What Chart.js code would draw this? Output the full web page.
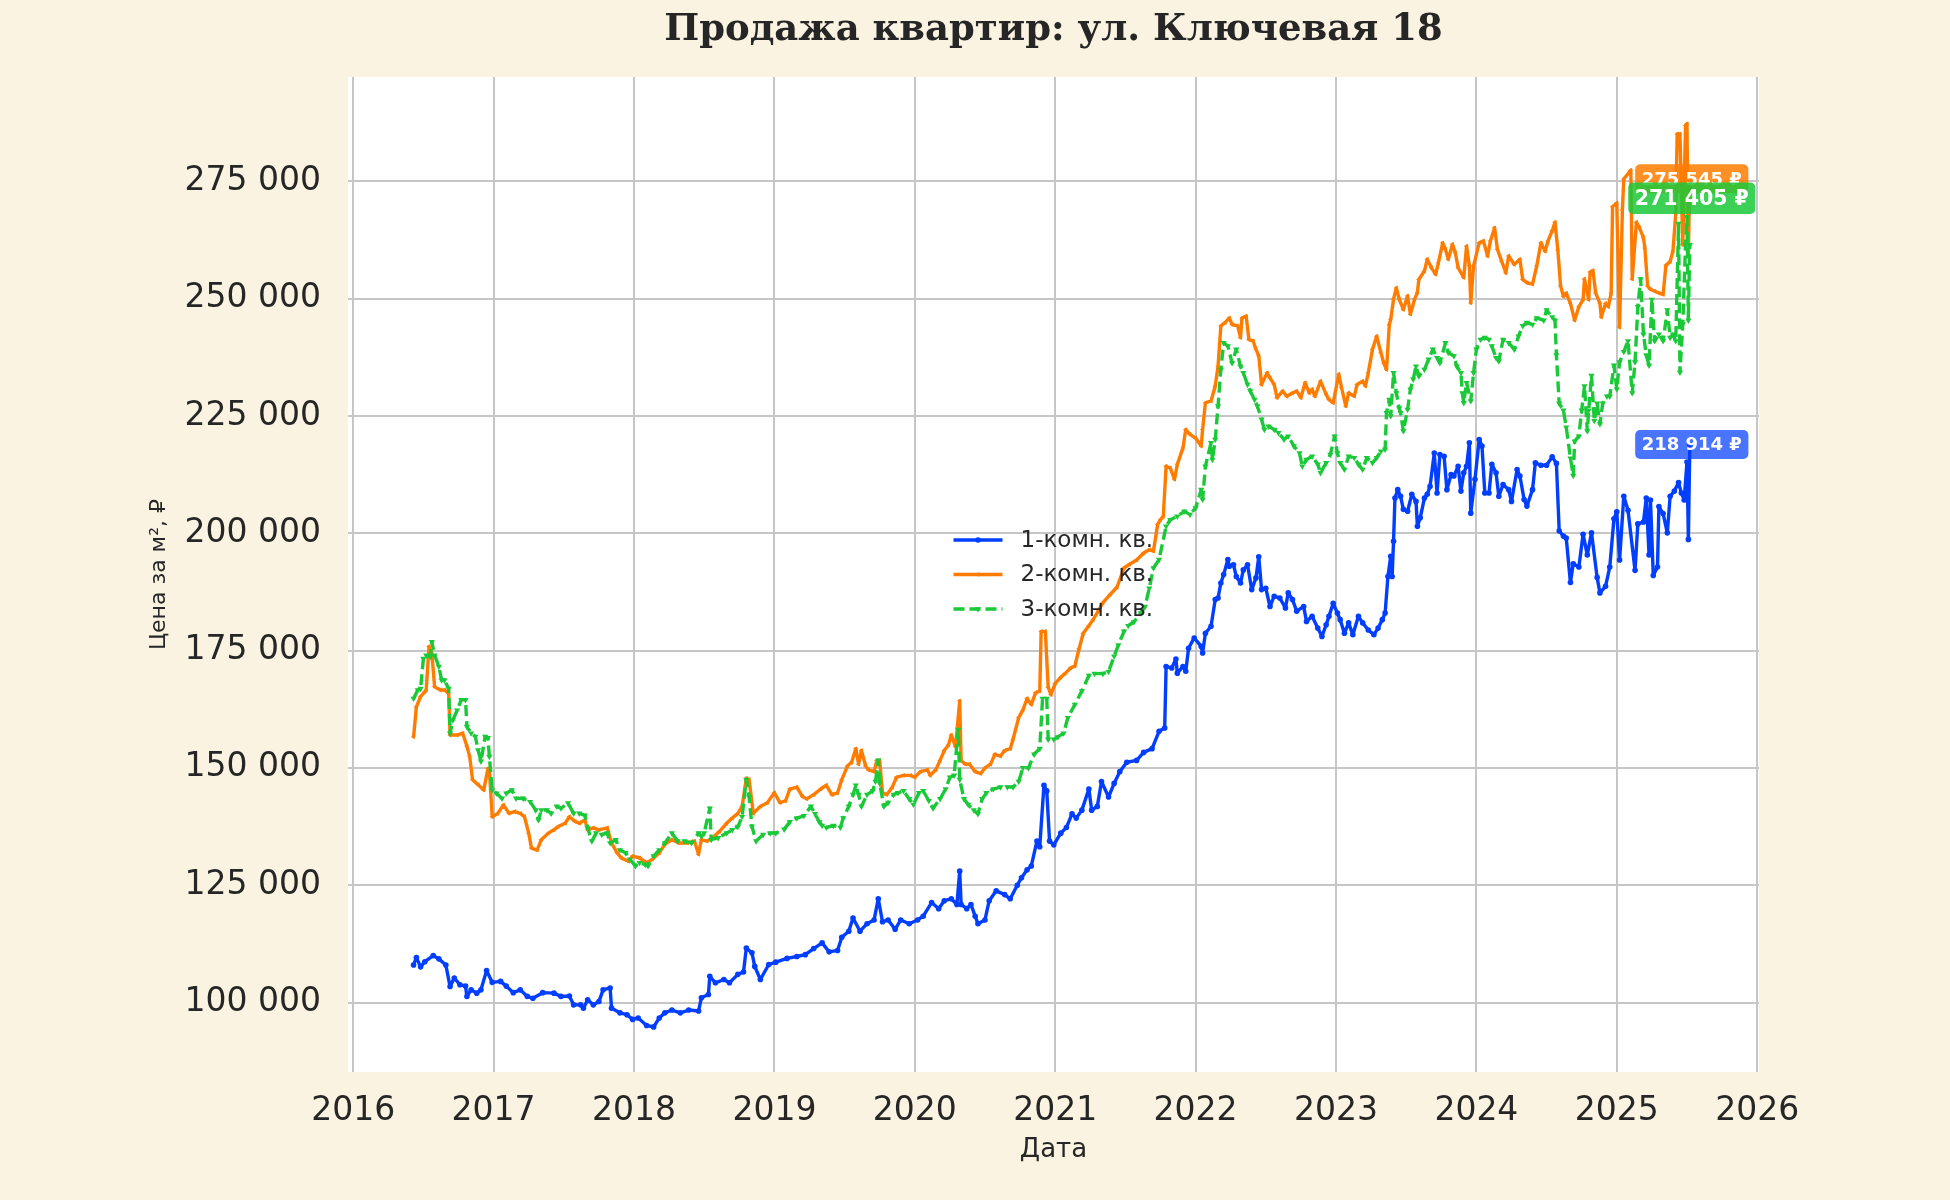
<!DOCTYPE html>
<html>
<head>
<meta charset="utf-8">
<script src="https://cdn.jsdelivr.net/npm/chart.js@4.4.1/dist/chart.umd.min.js"></script>
<style>
  html, body { margin: 0; padding: 0; background: #fbf3e1; }
  canvas { display: block; }
</style>
</head>
<body>
<canvas id="chart" width="1950" height="1200"></canvas>
<script>
// dates as decimal years, prices in thousands of rubles per m²
const dates1 = [
  2016.43, 2016.45, 2016.48, 2016.51, 2016.57, 2016.61, 2016.66, 2016.69, 2016.72, 2016.76, 2016.80, 2016.81, 2016.84, 2016.88, 2016.91, 2016.95, 2016.99,
  2017.05, 2017.09, 2017.14, 2017.19, 2017.24, 2017.28, 2017.35, 2017.43, 2017.48, 2017.54, 2017.57, 2017.62, 2017.64, 2017.67, 2017.71, 2017.75, 2017.78, 2017.83, 2017.84, 2017.90, 2017.95, 2017.99,
  2018.03, 2018.09, 2018.14, 2018.18, 2018.22, 2018.27, 2018.33, 2018.39, 2018.46, 2018.48, 2018.53, 2018.54, 2018.58, 2018.64, 2018.68, 2018.74, 2018.78, 2018.80, 2018.84, 2018.86, 2018.90, 2018.96,
  2019.01, 2019.09, 2019.16, 2019.22, 2019.28, 2019.34, 2019.39, 2019.45, 2019.48, 2019.53, 2019.56, 2019.61, 2019.66, 2019.71, 2019.74, 2019.77, 2019.81, 2019.86, 2019.90, 2019.96,
  2020.02, 2020.06, 2020.12, 2020.17, 2020.21, 2020.26, 2020.30, 2020.32, 2020.33, 2020.37, 2020.40, 2020.43, 2020.45, 2020.50, 2020.53, 2020.58, 2020.64, 2020.68, 2020.73, 2020.76, 2020.80, 2020.83, 2020.87, 2020.89, 2020.92, 2020.94, 2020.96, 2020.99,
  2021.04, 2021.08, 2021.12, 2021.15, 2021.19, 2021.24, 2021.26, 2021.30, 2021.33, 2021.38, 2021.42, 2021.46, 2021.51, 2021.58, 2021.63, 2021.69, 2021.74, 2021.78, 2021.79, 2021.83, 2021.86, 2021.87, 2021.91, 2021.93, 2021.95, 2021.99,
  2022.04, 2022.05, 2022.07, 2022.11, 2022.14, 2022.16, 2022.18, 2022.20, 2022.23, 2022.24, 2022.27, 2022.29, 2022.32, 2022.34, 2022.37, 2022.40, 2022.43, 2022.45, 2022.47, 2022.50, 2022.53, 2022.56, 2022.60, 2022.64, 2022.66, 2022.69, 2022.72, 2022.77, 2022.79, 2022.83, 2022.87, 2022.90, 2022.93, 2022.95, 2022.98,
  2023.01, 2023.03, 2023.06, 2023.09, 2023.12, 2023.16, 2023.19, 2023.23, 2023.27, 2023.30, 2023.33, 2023.35, 2023.37, 2023.39, 2023.40, 2023.41, 2023.42, 2023.44, 2023.46, 2023.48, 2023.51, 2023.54, 2023.57, 2023.58, 2023.60, 2023.63, 2023.65, 2023.67, 2023.70, 2023.72, 2023.74, 2023.77, 2023.79, 2023.82, 2023.84, 2023.87, 2023.89, 2023.91, 2023.93, 2023.95, 2023.96, 2023.99,
  2024.02, 2024.04, 2024.06, 2024.09, 2024.11, 2024.14, 2024.16, 2024.19, 2024.23, 2024.25, 2024.29, 2024.31, 2024.34, 2024.36, 2024.40, 2024.42, 2024.46, 2024.50, 2024.54, 2024.57, 2024.59, 2024.62, 2024.64, 2024.67, 2024.69, 2024.73, 2024.76, 2024.79, 2024.82, 2024.86, 2024.88, 2024.92, 2024.95, 2024.98,
  2025.00, 2025.02, 2025.05, 2025.08, 2025.13, 2025.15, 2025.19, 2025.21, 2025.23, 2025.24, 2025.26, 2025.29, 2025.30, 2025.33, 2025.36, 2025.38, 2025.41, 2025.44, 2025.46, 2025.48, 2025.50, 2025.51, 2025.52
];
const prices1 = [
  108.0, 109.6, 107.6, 108.7, 110.0, 109.3, 108.0, 103.4, 105.2, 103.8, 103.5, 101.3, 102.7, 102.0, 102.7, 106.8, 104.3,
  104.5, 103.5, 102.1, 102.7, 101.3, 100.9, 102.1, 102.0, 101.3, 101.4, 99.5, 99.5, 98.8, 100.6, 99.5, 100.2, 102.7, 103.1, 98.8, 97.8, 97.4, 96.4,
  96.7, 95.1, 94.8, 96.7, 97.8, 98.4, 97.8, 98.4, 98.2, 101.0, 101.7, 105.6, 104.2, 104.9, 104.2, 106.0, 106.5, 111.6, 110.6, 107.7, 104.9, 108.1,
  108.6, 109.4, 109.8, 110.2, 111.5, 112.7, 110.8, 111.1, 113.9, 115.2, 118.0, 115.2, 116.8, 117.6, 122.1, 117.2, 117.6, 115.6, 117.6, 116.8,
  117.6, 118.4, 121.3, 120.0, 121.7, 122.1, 120.9, 128.0, 120.9, 120.0, 120.9, 118.4, 116.8, 117.6, 121.7, 123.8, 123.0, 122.1, 125.0, 126.6, 128.3, 129.1, 134.4, 133.2, 146.3, 145.1, 134.4, 133.6,
  136.1, 137.3, 140.2, 139.3, 141.0, 145.5, 141.0, 141.8, 147.1, 143.8, 146.7, 149.2, 151.2, 151.6, 153.3, 154.1, 157.8, 158.5, 171.6, 171.3, 173.2, 170.2, 171.6, 170.6, 175.5, 177.7,
  175.9, 174.5, 178.7, 180.2, 185.9, 186.2, 189.4, 191.2, 194.4, 193.0, 193.3, 190.8, 189.4, 192.2, 193.3, 188.0, 190.5, 195.0, 188.0, 188.3, 184.4, 186.6, 186.2, 184.1, 187.3, 185.9, 183.4, 184.4, 181.2, 182.3, 179.8, 178.0, 180.5, 182.3, 185.1,
  183.0, 181.6, 178.7, 180.9, 178.4, 182.3, 180.9, 179.4, 178.4, 179.8, 181.6, 183.0, 190.8, 195.1, 190.8, 198.3, 207.5, 209.3, 207.9, 205.1, 204.7, 208.3, 206.8, 201.5, 203.3, 207.5, 208.3, 210.0, 217.1, 208.6, 216.8, 216.4, 209.3, 212.5, 212.2, 214.3, 209.0, 212.9, 214.3, 219.3, 204.3, 211.5,
  220.0, 218.6, 208.6, 208.6, 214.7, 212.9, 207.9, 210.4, 209.3, 206.8, 213.6, 212.2, 207.2, 205.8, 209.3, 215.0, 214.5, 214.5, 216.3, 214.9, 200.5, 199.4, 199.0, 189.5, 193.5, 192.8, 199.8, 195.4, 200.1, 190.6, 187.3, 188.7, 192.8, 203.1,
  204.6, 194.3, 207.9, 204.9, 192.1, 202.0, 202.4, 207.5, 195.4, 207.1, 191.0, 192.8, 205.7, 204.2, 200.1, 207.9, 209.0, 210.8, 208.6, 207.1, 215.2, 198.7, 218.9
];

const dates2 = [
  2016.43, 2016.45, 2016.48, 2016.51, 2016.52, 2016.54, 2016.56, 2016.58, 2016.62, 2016.65, 2016.68, 2016.69, 2016.74, 2016.78, 2016.81, 2016.83, 2016.85, 2016.89, 2016.93, 2016.96, 2016.97, 2016.99,
  2017.03, 2017.07, 2017.11, 2017.15, 2017.19, 2017.22, 2017.25, 2017.27, 2017.31, 2017.34, 2017.39, 2017.43, 2017.46, 2017.51, 2017.54, 2017.58, 2017.61, 2017.65, 2017.67, 2017.71, 2017.75, 2017.81, 2017.84, 2017.88, 2017.91, 2017.96, 2017.99,
  2018.04, 2018.09, 2018.13, 2018.18, 2018.22, 2018.27, 2018.32, 2018.38, 2018.43, 2018.46, 2018.48, 2018.52, 2018.56, 2018.61, 2018.66, 2018.70, 2018.74, 2018.77, 2018.80, 2018.82, 2018.85, 2018.90, 2018.95,
  2019.00, 2019.04, 2019.08, 2019.11, 2019.16, 2019.20, 2019.23, 2019.28, 2019.33, 2019.37, 2019.41, 2019.45, 2019.48, 2019.52, 2019.55, 2019.58, 2019.60, 2019.62, 2019.65, 2019.67, 2019.71, 2019.73, 2019.75, 2019.77, 2019.80, 2019.84, 2019.87, 2019.92, 2019.97,
  2020.00, 2020.04, 2020.09, 2020.11, 2020.15, 2020.18, 2020.21, 2020.24, 2020.26, 2020.29, 2020.32, 2020.33, 2020.36, 2020.39, 2020.43, 2020.47, 2020.50, 2020.54, 2020.57, 2020.61, 2020.64, 2020.68, 2020.70, 2020.74, 2020.77, 2020.80, 2020.83, 2020.86, 2020.89, 2020.90, 2020.93, 2020.95, 2020.97,
  2021.00, 2021.04, 2021.07, 2021.11, 2021.14, 2021.17, 2021.20, 2021.24, 2021.27, 2021.31, 2021.34, 2021.39, 2021.44, 2021.49, 2021.53, 2021.58, 2021.63, 2021.67, 2021.70, 2021.73, 2021.75, 2021.77, 2021.79, 2021.82, 2021.85, 2021.87, 2021.91, 2021.93, 2021.96,
  2022.00, 2022.04, 2022.05, 2022.07, 2022.11, 2022.14, 2022.16, 2022.18, 2022.21, 2022.24, 2022.26, 2022.30, 2022.32, 2022.33, 2022.36, 2022.38, 2022.41, 2022.43, 2022.45, 2022.47, 2022.51, 2022.53, 2022.56, 2022.58, 2022.62, 2022.65, 2022.69, 2022.72, 2022.75, 2022.78, 2022.81, 2022.83, 2022.85, 2022.89, 2022.93, 2022.95, 2022.98,
  2023.02, 2023.04, 2023.07, 2023.09, 2023.13, 2023.15, 2023.19, 2023.21, 2023.23, 2023.26, 2023.29, 2023.32, 2023.34, 2023.36, 2023.38, 2023.39, 2023.41, 2023.43, 2023.45, 2023.48, 2023.51, 2023.53, 2023.56, 2023.58, 2023.59, 2023.63, 2023.65, 2023.68, 2023.71, 2023.73, 2023.76, 2023.78, 2023.80, 2023.83, 2023.85, 2023.87, 2023.91, 2023.93, 2023.95, 2023.96, 2023.98,
  2024.02, 2024.05, 2024.08, 2024.10, 2024.13, 2024.15, 2024.18, 2024.21, 2024.23, 2024.27, 2024.31, 2024.33, 2024.36, 2024.40, 2024.43, 2024.46, 2024.49, 2024.51, 2024.54, 2024.56, 2024.58, 2024.60, 2024.62, 2024.64, 2024.67, 2024.70, 2024.73, 2024.76, 2024.77, 2024.80, 2024.81, 2024.83, 2024.85, 2024.88, 2024.89, 2024.92, 2024.94, 2024.96, 2024.97,
  2025.00, 2025.02, 2025.04, 2025.05, 2025.10, 2025.11, 2025.14, 2025.16, 2025.19, 2025.20, 2025.22, 2025.24, 2025.27, 2025.30, 2025.33, 2025.35, 2025.38, 2025.40, 2025.42, 2025.43, 2025.45, 2025.47, 2025.49, 2025.50, 2025.51, 2025.52
];
const prices2 = [
  156.6, 163.0, 165.2, 166.2, 166.6, 175.9, 174.4, 167.3, 166.6, 166.6, 165.9, 157.0, 157.0, 157.4, 154.6, 152.4, 147.5, 146.4, 145.3, 149.9, 149.6, 139.6,
  140.3, 142.1, 140.3, 140.7, 140.3, 139.6, 136.1, 132.9, 132.5, 134.7, 136.1, 136.8, 137.5, 138.2, 139.6, 138.6, 138.2, 138.9, 136.8, 137.2, 136.8, 137.2, 134.0, 131.9, 130.8, 130.1, 131.2,
  130.8, 129.8, 130.5, 131.9, 133.7, 134.7, 134.0, 134.0, 134.4, 131.6, 134.7, 134.4, 135.1, 136.5, 138.2, 139.3, 140.3, 141.8, 147.8, 147.5, 140.3, 141.8, 142.6,
  144.7, 142.6, 143.0, 145.5, 145.9, 143.9, 143.4, 144.3, 145.5, 146.3, 144.3, 144.7, 147.5, 150.4, 151.2, 154.1, 150.8, 153.7, 150.4, 149.6, 149.2, 151.6, 151.6, 144.7, 144.3, 145.9, 148.0, 148.4, 148.4,
  148.0, 149.2, 149.6, 148.4, 149.6, 151.6, 153.7, 154.9, 157.0, 154.5, 164.3, 151.6, 150.8, 150.8, 149.2, 148.8, 150.0, 150.8, 152.9, 152.5, 153.7, 154.1, 156.1, 160.7, 162.3, 164.8, 163.5, 166.0, 166.4, 179.1, 179.1, 167.2, 165.6,
  168.0, 169.3, 170.1, 171.3, 171.7, 175.4, 178.7, 180.3, 181.6, 183.6, 185.2, 186.9, 188.5, 192.6, 193.4, 194.3, 195.8, 196.5, 196.2, 201.9, 202.9, 203.6, 214.3, 213.9, 211.5, 214.7, 218.2, 222.1, 221.1,
  220.3, 218.6, 222.1, 227.8, 228.2, 231.4, 235.6, 244.2, 244.9, 245.9, 244.5, 244.2, 241.7, 245.9, 246.3, 241.3, 241.0, 239.2, 237.8, 231.7, 234.2, 233.1, 231.7, 228.9, 230.3, 229.2, 229.9, 230.3, 228.9, 232.1, 229.9, 230.7, 229.2, 232.4, 229.6, 228.5, 227.8,
  233.9, 231.0, 227.1, 229.9, 229.2, 231.7, 232.4, 231.4, 234.2, 239.2, 242.0, 238.5, 236.3, 234.9, 244.5, 245.6, 249.9, 252.3, 249.9, 247.7, 250.6, 246.7, 249.9, 251.3, 254.1, 255.9, 258.4, 256.6, 255.2, 257.7, 261.9, 260.5, 258.4, 261.6, 259.8, 256.6, 254.5, 261.2, 257.0, 249.1, 257.0,
  261.9, 262.3, 259.1, 262.3, 265.1, 260.5, 258.0, 255.5, 259.1, 257.3, 258.4, 254.1, 253.4, 253.1, 257.0, 261.9, 260.1, 262.3, 264.5, 266.3, 260.4, 252.7, 250.5, 251.2, 249.0, 245.4, 248.3, 249.8, 254.2, 249.8, 255.7, 256.0, 251.2, 249.0, 246.1, 249.0, 248.3, 251.2, 269.6,
  270.4, 243.9, 268.9, 275.5, 277.4, 254.2, 266.3, 265.2, 263.0, 260.8, 252.7, 252.0, 251.6, 251.2, 250.9, 257.1, 257.9, 260.1, 268.2, 285.1, 285.1, 261.5, 286.9, 287.3, 259.3, 275.5
];

const dates3 = [
  2016.43, 2016.46, 2016.48, 2016.50, 2016.52, 2016.55, 2016.56, 2016.58, 2016.61, 2016.63, 2016.65, 2016.68, 2016.69, 2016.71, 2016.74, 2016.77, 2016.80, 2016.81, 2016.84, 2016.87, 2016.89, 2016.91, 2016.94, 2016.96, 2016.97, 2016.99,
  2017.02, 2017.06, 2017.09, 2017.13, 2017.16, 2017.21, 2017.26, 2017.30, 2017.32, 2017.34, 2017.38, 2017.41, 2017.45, 2017.48, 2017.53, 2017.57, 2017.61, 2017.65, 2017.67, 2017.70, 2017.73, 2017.77, 2017.81, 2017.83, 2017.87, 2017.90, 2017.94, 2017.97,
  2018.01, 2018.04, 2018.08, 2018.10, 2018.14, 2018.18, 2018.22, 2018.27, 2018.31, 2018.36, 2018.41, 2018.46, 2018.48, 2018.50, 2018.54, 2018.55, 2018.60, 2018.66, 2018.70, 2018.74, 2018.77, 2018.80, 2018.82, 2018.84, 2018.87, 2018.92, 2018.97,
  2019.01, 2019.07, 2019.11, 2019.16, 2019.21, 2019.26, 2019.29, 2019.32, 2019.34, 2019.37, 2019.42, 2019.47, 2019.49, 2019.53, 2019.56, 2019.58, 2019.60, 2019.62, 2019.66, 2019.70, 2019.72, 2019.74, 2019.75, 2019.78, 2019.81, 2019.85, 2019.88, 2019.92, 2019.96, 2019.99,
  2020.03, 2020.06, 2020.10, 2020.13, 2020.18, 2020.22, 2020.25, 2020.28, 2020.31, 2020.32, 2020.35, 2020.38, 2020.42, 2020.45, 2020.48, 2020.51, 2020.56, 2020.61, 2020.66, 2020.70, 2020.74, 2020.77, 2020.81, 2020.85, 2020.89, 2020.91, 2020.94, 2020.95, 2020.99,
  2021.02, 2021.06, 2021.09, 2021.14, 2021.19, 2021.24, 2021.28, 2021.34, 2021.38, 2021.42, 2021.45, 2021.49, 2021.52, 2021.56, 2021.61, 2021.64, 2021.67, 2021.70, 2021.74, 2021.79, 2021.82, 2021.87, 2021.92, 2021.96,
  2022.00, 2022.04, 2022.05, 2022.07, 2022.11, 2022.12, 2022.14, 2022.16, 2022.18, 2022.20, 2022.23, 2022.26, 2022.29, 2022.32, 2022.34, 2022.37, 2022.39, 2022.42, 2022.44, 2022.47, 2022.49, 2022.52, 2022.56, 2022.59, 2022.63, 2022.66, 2022.70, 2022.74, 2022.76, 2022.79, 2022.83, 2022.87, 2022.89, 2022.93, 2022.96, 2022.99,
  2023.01, 2023.03, 2023.06, 2023.09, 2023.13, 2023.16, 2023.19, 2023.22, 2023.26, 2023.29, 2023.32, 2023.35, 2023.36, 2023.38, 2023.39, 2023.41, 2023.43, 2023.45, 2023.46, 2023.48, 2023.51, 2023.53, 2023.55, 2023.57, 2023.59, 2023.63, 2023.66, 2023.69, 2023.72, 2023.74, 2023.78, 2023.80, 2023.84, 2023.86, 2023.89, 2023.90, 2023.91, 2023.93, 2023.96, 2023.98,
  2024.00, 2024.03, 2024.06, 2024.09, 2024.11, 2024.14, 2024.16, 2024.19, 2024.23, 2024.27, 2024.30, 2024.33, 2024.36, 2024.40, 2024.43, 2024.48, 2024.50, 2024.54, 2024.56, 2024.57, 2024.59, 2024.62, 2024.64, 2024.67, 2024.69, 2024.70, 2024.73, 2024.75, 2024.77, 2024.79, 2024.80, 2024.82, 2024.84, 2024.86, 2024.88, 2024.90, 2024.93, 2024.95, 2024.98,
  2025.00, 2025.02, 2025.05, 2025.08, 2025.11, 2025.13, 2025.15, 2025.17, 2025.19, 2025.21, 2025.23, 2025.25, 2025.27, 2025.30, 2025.33, 2025.36, 2025.38, 2025.40, 2025.42, 2025.44, 2025.45, 2025.47, 2025.49, 2025.50, 2025.51, 2025.52
];
const prices3 = [
  164.8, 166.6, 166.9, 173.3, 174.0, 173.7, 176.9, 174.0, 171.6, 168.7, 168.7, 166.9, 157.4, 160.2, 162.3, 164.5, 164.5, 158.8, 157.4, 156.7, 153.8, 151.4, 156.7, 156.4, 152.4, 145.3,
  144.6, 143.5, 144.6, 145.3, 143.5, 143.5, 142.8, 141.0, 138.9, 141.0, 141.0, 140.3, 141.8, 141.4, 142.5, 140.3, 140.3, 139.9, 137.2, 134.4, 136.1, 135.8, 136.1, 134.0, 134.7, 132.5, 131.9, 130.5,
  129.1, 129.8, 129.4, 129.1, 131.2, 132.5, 134.0, 136.1, 134.4, 134.4, 134.0, 136.1, 135.4, 136.1, 141.4, 134.7, 135.1, 136.1, 136.8, 137.5, 139.6, 147.5, 143.9, 137.5, 134.4, 135.8, 136.1,
  136.1, 136.9, 138.5, 139.3, 139.8, 141.8, 140.2, 138.5, 137.7, 137.3, 137.7, 137.3, 139.3, 141.8, 144.3, 146.3, 144.3, 141.8, 144.3, 145.1, 147.1, 151.6, 146.7, 141.8, 142.6, 144.3, 144.7, 145.1, 143.4, 142.2,
  144.7, 145.1, 143.0, 141.4, 143.4, 145.5, 148.0, 148.4, 158.2, 147.5, 143.4, 142.2, 141.0, 140.2, 143.4, 144.7, 145.5, 145.9, 145.9, 145.9, 147.1, 150.0, 150.0, 152.9, 154.1, 164.8, 164.8, 156.1, 156.1,
  156.6, 157.4, 160.7, 163.5, 166.4, 169.7, 170.1, 170.1, 170.5, 173.8, 176.2, 179.1, 180.3, 181.1, 183.0, 184.4, 188.3, 192.6, 194.4, 201.5, 202.9, 203.6, 204.7, 204.0,
  205.4, 209.3, 207.2, 214.3, 219.3, 215.7, 220.0, 227.1, 234.9, 240.6, 239.9, 236.3, 239.2, 235.6, 234.2, 231.7, 230.3, 228.5, 227.1, 224.3, 222.1, 222.8, 222.1, 221.4, 220.0, 220.7, 218.6, 217.1, 214.3, 215.7, 216.4, 214.7, 212.9, 215.0, 216.8, 220.7,
  217.1, 215.0, 213.6, 216.4, 216.1, 214.7, 213.6, 216.1, 215.0, 216.1, 217.5, 217.9, 225.7, 228.5, 225.0, 234.2, 229.9, 226.7, 225.7, 221.8, 226.4, 230.7, 232.8, 235.6, 233.5, 234.9, 237.1, 239.2, 237.4, 236.3, 240.6, 238.5, 237.8, 235.6, 234.2, 229.9, 227.8, 232.1, 228.2, 234.2,
  239.2, 241.3, 241.7, 241.3, 239.9, 237.4, 236.7, 241.3, 240.6, 239.2, 242.0, 244.2, 244.9, 244.5, 245.9, 245.4, 247.6, 246.1, 245.4, 238.0, 227.7, 226.2, 222.6, 216.0, 212.3, 219.6, 220.7, 226.2, 231.4, 221.8, 226.2, 233.6, 224.0, 227.7, 223.3, 227.7, 229.2, 229.2, 235.8,
  230.7, 236.5, 238.7, 241.0, 229.9, 236.5, 248.3, 254.2, 242.4, 238.0, 235.8, 249.8, 241.0, 242.4, 241.0, 247.6, 241.7, 242.4, 241.0, 266.0, 234.3, 244.6, 261.5, 267.4, 245.4, 261.5
];

const seriesNames = ['1-комн. кв.', '2-комн. кв.', '3-комн. кв.'];
const lastLabels = [218914, 275545, 271405];
const yearTicks = [2016, 2017, 2018, 2019, 2020, 2021, 2022, 2023, 2024, 2025, 2026];
const priceTicks = [100000, 125000, 150000, 175000, 200000, 225000, 250000, 275000];

const colors = ['#023eff', '#ff7c00', '#1ac938'];
const boxColors = ['rgba(2, 62, 255, 0.72)', 'rgba(255, 124, 0, 0.85)', 'rgba(26, 201, 56, 0.85)'];
const textColor = '#262626';
const gridColor = '#c6c6c6';

Chart.defaults.font.family = "'DejaVu Sans', sans-serif";
Chart.defaults.color = textColor;

function toPoints(dates, prices) {
    return dates.map((d, i) => ({ x: d, y: prices[i] * 1000 }));
}

function formatPrice(v) {
    return String(Math.round(v)).replace(/\B(?=(\d{3})+(?!\d))/g, ' ');
}

// beige page + white plot area
const backgroundPlugin = {
    id: 'background',
    beforeDraw(chart) {
        const { ctx, chartArea: a } = chart;
        ctx.save();
        ctx.fillStyle = '#fbf3e1';
        ctx.fillRect(0, 0, chart.width, chart.height);
        ctx.fillStyle = '#ffffff';
        ctx.fillRect(a.left, a.top, a.right - a.left, a.bottom - a.top);
        ctx.restore();
    }
};

const titlePlugin = {
    id: 'plotTitle',
    afterDraw(chart) {
        const { ctx, chartArea: a } = chart;
        ctx.save();
        ctx.font = "bold 37px 'DejaVu Serif', serif";
        ctx.fillStyle = textColor;
        ctx.textAlign = 'center';
        ctx.textBaseline = 'middle';
        ctx.fillText('Продажа квартир: ул. Ключевая 18', (a.left + a.right) / 2, 30);
        ctx.restore();
    }
};

// legend drawn in the middle of the plot area, like loc="center"
const centerLegendPlugin = {
    id: 'centerLegend',
    afterDatasetsDraw(chart) {
        const { ctx, chartArea: a } = chart;
        const cx = (a.left + a.right) / 2;
        const cy = (a.top + a.bottom) / 2;
        const rowGap = 34.5;
        ctx.save();
        chart.data.datasets.forEach((ds, i) => {
            const y = cy + (i - 1) * rowGap;
            const x0 = cx - 100, x1 = cx - 51;
            ctx.strokeStyle = ds.borderColor;
            ctx.lineWidth = ds.borderWidth;
            ctx.setLineDash(ds.borderDash || []);
            ctx.beginPath();
            ctx.moveTo(x0, y);
            ctx.lineTo(x1, y);
            ctx.stroke();
            ctx.setLineDash([]);
            ctx.fillStyle = ds.backgroundColor;
            ctx.strokeStyle = ds.borderColor;
            Chart.helpers.drawPoint(ctx, {
                pointStyle: ds.pointStyle,
                rotation: ds.pointRotation || 0,
                radius: ds.pointRadius,
                borderWidth: ds.pointBorderWidth
            }, (x0 + x1) / 2, y);
            ctx.fillStyle = textColor;
            ctx.font = "23px 'DejaVu Sans', sans-serif";
            ctx.textAlign = 'left';
            ctx.textBaseline = 'middle';
            ctx.fillText(ds.label, cx - 33, y + 1);
        });
        ctx.restore();
    }
};

// value badges at the end of each series
const endLabelPlugin = {
    id: 'endLabels',
    afterDatasetsDraw(chart) {
        const { ctx } = chart;
        const xs = chart.scales.x, ys = chart.scales.y;
        const lastDates = [dates1, dates2, dates3].map(d => d[d.length - 1]);
        const sizes = [18, 18, 20.5];
        ctx.save();
        lastLabels.forEach((val, i) => {
            const text = formatPrice(val) + ' ₽';
            ctx.font = "bold " + sizes[i] + "px 'DejaVu Sans', sans-serif";
            const w = ctx.measureText(text).width + 13;
            const h = sizes[i] + 11;
            const x = xs.getPixelForValue(lastDates[i]) + 2;
            const y = ys.getPixelForValue(val);
            ctx.fillStyle = boxColors[i];
            ctx.beginPath();
            ctx.roundRect(x - w / 2, y - h / 2, w, h, 5);
            ctx.fill();
            ctx.fillStyle = '#ffffff';
            ctx.textAlign = 'center';
            ctx.textBaseline = 'middle';
            ctx.fillText(text, x, y + 1);
        });
        ctx.restore();
    }
};

const chart = new Chart(document.getElementById('chart'), {
    type: 'line',
    data: {
        datasets: [
            {
                label: seriesNames[0],
                data: toPoints(dates1, prices1),
                borderColor: colors[0],
                backgroundColor: colors[0],
                borderWidth: 3.4,
                pointStyle: 'circle',
                pointRadius: 2.8,
                pointBorderWidth: 0,
                order: 3
            },
            {
                label: seriesNames[1],
                data: toPoints(dates2, prices2),
                borderColor: colors[1],
                backgroundColor: colors[1],
                borderWidth: 3.4,
                pointStyle: 'triangle',
                pointRotation: 270,
                pointRadius: 2.8,
                pointBorderWidth: 0,
                order: 2
            },
            {
                label: seriesNames[2],
                data: toPoints(dates3, prices3),
                borderColor: colors[2],
                backgroundColor: colors[2],
                borderWidth: 3.4,
                borderDash: [11, 5],
                pointStyle: 'triangle',
                pointRotation: 180,
                pointRadius: 3.6,
                pointBorderWidth: 0,
                order: 1
            }
        ]
    },
    options: {
        responsive: false,
        animation: false,
        devicePixelRatio: 1,
        layout: { padding: { left: 0, top: 77, right: 191, bottom: 0 } },
        elements: { line: { tension: 0, borderJoinStyle: 'round' } },
        plugins: {
            legend: { display: false },
            tooltip: { enabled: false }
        },
        scales: {
            x: {
                type: 'linear',
                min: 2015.963,
                max: 2026.013,
                afterBuildTicks: scale => { scale.ticks = yearTicks.map(v => ({ value: v })); },
                afterFit: scale => { scale.height = 128; },
                ticks: {
                    padding: 20,
                    font: { size: 33 },
                    color: textColor,
                    callback: v => String(v)
                },
                grid: { color: gridColor, lineWidth: 2, drawTicks: false },
                border: { display: false },
                title: {
                    display: true,
                    text: 'Дата',
                    font: { size: 26 },
                    color: textColor,
                    padding: { top: 0, bottom: 34 }
                }
            },
            y: {
                min: 85190,
                max: 297250,
                afterBuildTicks: scale => { scale.ticks = priceTicks.map(v => ({ value: v })); },
                afterFit: scale => { scale.width = 348; },
                ticks: {
                    padding: 27,
                    font: { size: 33 },
                    color: textColor,
                    callback: v => formatPrice(v)
                },
                grid: { color: gridColor, lineWidth: 2, drawTicks: false },
                border: { display: false },
                title: {
                    display: true,
                    text: 'Цена за м², ₽',
                    font: { size: 22 },
                    color: textColor,
                    padding: { top: 146, bottom: 0 }
                }
            }
        }
    },
    plugins: [backgroundPlugin, titlePlugin, centerLegendPlugin, endLabelPlugin]
});
</script>
</body>
</html>
